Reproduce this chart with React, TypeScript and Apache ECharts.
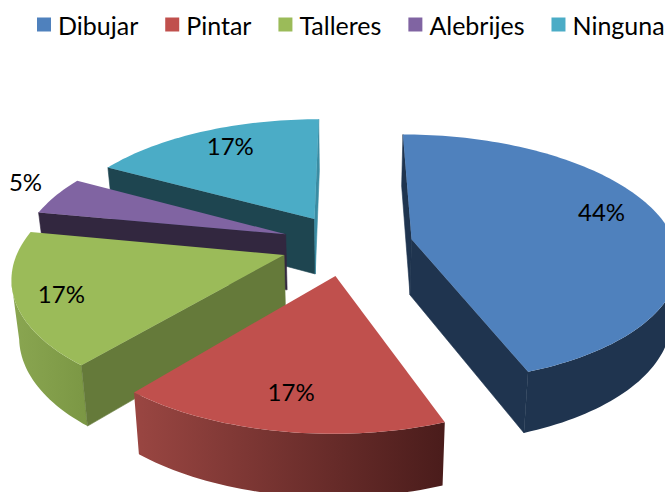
import React, { useEffect, useRef } from "react";
import * as echarts from "echarts";

const categories = ["Dibujar", "Pintar", "Talleres", "Alebrijes", "Ninguna"];
const shares = [44.4, 16.6, 17, 5, 17];
const topColors = ["#4F81BD", "#C0504D", "#9BBB59", "#8064A2", "#4BACC6"];
const startFaceColors = ["#1F344F", "#4D1F1D", "#657A3A", "#32273F", "#1E4550"];
const endFaceColors = ["#1F344F", "#4D1F1D", "#657A3A", "#32273F", "#3A8CA3"];
const rimLeftColors = ["#1F344F", "#9A4642", "#8AA651", "#32273F", "#1E4550"];
const rimRightColors = ["#1F344F", "#4A1C1B", "#7B9744", "#32273F", "#1E4550"];
const labelReach = [0.76, 0.77, 0.82, 1.19, 0.78];
const labelNudgeX = [-1, -2, -4, 11, 5];
const labelNudgeY = [-12, 1, 2, -7, -4];
const drawOrder = [4, 5, 3, 2, 1];

const CX = 347, CY = 244.5, F = 264, G = 122.5, P = 0.155, EXPLODE = 0.25;
const total = shares.reduce((a, b) => a + b, 0);

const project = (u: number, v: number): [number, number] => {
  const w = 1 - P * v;
  return [CX + (F * u) / w, CY + (G * v) / w];
};
const drop = (p: number[]): [number, number] => [
  CX + 0.977 * (p[0] - CX),
  CY + 56 + 1.04 * (p[1] - CY),
];

function renderSlice(index: number) {
  let before = 0;
  for (let i = 0; i < index; i++) before += shares[i];
  const a0 = (before / total) * Math.PI * 2;
  const a1 = ((before + shares[index]) / total) * Math.PI * 2;
  const mid = (a0 + a1) / 2;
  const ou = EXPLODE * Math.sin(mid);
  const ov = -EXPLODE * Math.cos(mid);
  const at = (a: number, r = 1) => project(ou + r * Math.sin(a), ov - r * Math.cos(a));
  const apex = at(0, 0);
  const rim: [number, number][] = [];
  const steps = Math.max(12, Math.round((a1 - a0) * 40));
  for (let i = 0; i <= steps; i++) rim.push(at(a0 + ((a1 - a0) * i) / steps));
  const midPt = at(mid);
  const children: any[] = [];

  const front: [number, number][] = [];
  for (let i = 0; i < rim.length; i++) {
    const prev = rim[Math.max(i - 1, 0)];
    const next = rim[Math.min(i + 1, rim.length - 1)];
    if (next[0] < prev[0]) front.push(rim[i]);
  }
  if (front.length > 1) {
    children.push({
      type: "polygon",
      shape: { points: [...front, ...front.map(drop).reverse()] },
      style: {
        fill: new echarts.graphic.LinearGradient(0, 0, 1, 0, [
          { offset: 0, color: rimLeftColors[index] },
          { offset: 1, color: rimRightColors[index] },
        ]),
      },
    });
  }
  const edgeFace = (r: number[], fill: string) => {
    const ex = r[0] - apex[0], ey = r[1] - apex[1];
    const inner = ex * (midPt[1] - apex[1]) - ey * (midPt[0] - apex[0]);
    if (inner * ex < 0) {
      children.push({
        type: "polygon",
        shape: { points: [apex, r, drop(r), drop(apex)] },
        style: { fill, stroke: fill, lineWidth: 0.6 },
      });
    }
  };
  edgeFace(rim[0], startFaceColors[index]);
  edgeFace(rim[rim.length - 1], endFaceColors[index]);
  children.push({
    type: "polygon",
    shape: { points: [apex, ...rim] },
    style: { fill: topColors[index] },
  });
  const lp = at(mid, labelReach[index]);
  children.push({
    type: "text",
    style: {
      text: `${Math.round(shares[index])}%`,
      x: lp[0] + labelNudgeX[index],
      y: lp[1] + labelNudgeY[index],
      fill: "#000",
      font: "24px Lato",
      align: "center",
      verticalAlign: "middle",
    },
  });
  return { type: "group", children };
}

export default function App() {
  const ref = useRef<HTMLDivElement>(null);
  useEffect(() => {
    document.body.style.margin = "0";
    const chart = echarts.init(ref.current!, null, { renderer: "svg" });
    chart.setOption({
      animation: false,
      legend: {
        data: categories,
        left: 37,
        top: 12,
        padding: 0,
        icon: "rect",
        itemWidth: 14,
        itemHeight: 14,
        itemGap: 27,
        textStyle: { fontFamily: "Lato", fontSize: 25, color: "#000", padding: [0, 0, 0, 2] },
      },
      series: categories.map((name, i) => ({
        type: "custom",
        name,
        z: drawOrder[i],
        silent: true,
        coordinateSystem: "none",
        itemStyle: { color: topColors[i] },
        data: [shares[i]],
        renderItem: () => renderSlice(i),
      })),
    });
    return () => chart.dispose();
  }, []);
  return <div ref={ref} style={{ width: 665, height: 492 }} />;
}
